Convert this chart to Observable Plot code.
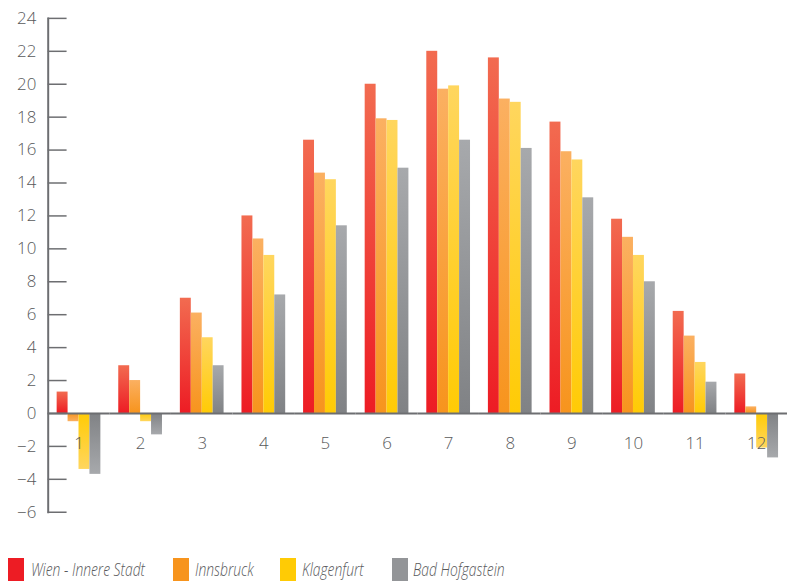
<!DOCTYPE html>
<html><head><meta charset="utf-8">
<script src="https://cdn.jsdelivr.net/npm/d3@7"></script>
<script src="https://cdn.jsdelivr.net/npm/@observablehq/plot@0.6"></script>
<style>
html,body{margin:0;padding:0;background:#fff;overflow:hidden;width:787px;height:585px}
#chart{position:absolute;left:0;top:0;line-height:0}
#chart svg{display:block}
#legend{position:absolute;left:0;top:558px;width:787px;height:24px}
.item{position:absolute;top:0;height:23px}
.sw{position:absolute;left:0;top:0;width:16px;height:23px}
.lab{position:absolute;top:-2px;white-space:nowrap;font-family:"Open Sans",sans-serif;font-style:italic;font-weight:300;font-size:19px;line-height:26px;color:#58595b;transform:scaleX(0.73);transform-origin:0 50%}
</style></head>
<body>
<svg width="0" height="0" style="position:absolute"><defs id="grads"></defs></svg>
<div id="chart"></div>
<div id="legend"></div>
<script>
const months = [1, 2, 3, 4, 5, 6, 7, 8, 9, 10, 11, 12];
const series = ["Wien - Innere Stadt", "Innsbruck", "Klagenfurt", "Bad Hofgastein"];
const wien        = [1.3, 2.9, 7.0, 12.0, 16.6, 20.0, 22.0, 21.6, 17.7, 11.8, 6.2, 2.4];
const innsbruck   = [-0.5, 2.0, 6.1, 10.6, 14.6, 17.9, 19.7, 19.1, 15.9, 10.7, 4.7, 0.4];
const klagenfurt  = [-3.4, -0.5, 4.6, 9.6, 14.2, 17.8, 19.9, 18.9, 15.4, 9.6, 3.1, -2.1];
const hofgastein  = [-3.7, -1.3, 2.9, 7.2, 11.4, 14.9, 16.6, 16.1, 13.1, 8.0, 1.9, -2.7];
const yTicks = [-6, -4, -2, 0, 2, 4, 6, 8, 10, 12, 14, 16, 18, 20, 22, 24];

const topColors    = ["#f26b50", "#fbb061", "#ffd65e", "#a7a9ac"];
const bottomColors = ["#ed1c24", "#f7941d", "#ffcb05", "#808285"];
const legendColors = ["#ed1c24", "#f7941d", "#ffcb05", "#939598"];
const legendPos = [[8, 31], [173, 195], [280, 302], [392, 413]];

// gradients (per-bar, objectBoundingBox)
document.getElementById("grads").innerHTML = series.map((s, i) =>
  `<linearGradient id="g${i}p" x1="0" y1="0" x2="0" y2="1"><stop offset="0" stop-color="${topColors[i]}"/><stop offset="1" stop-color="${bottomColors[i]}"/></linearGradient>` +
  `<linearGradient id="g${i}n" x1="0" y1="0" x2="0" y2="1"><stop offset="0" stop-color="${bottomColors[i]}"/><stop offset="1" stop-color="${topColors[i]}"/></linearGradient>`
).join("");

const values = [wien, innsbruck, klagenfurt, hofgastein];
const data = [];
months.forEach((m, mi) => series.forEach((s, si) => data.push({month: m, series: s, si, value: values[si][mi]})));

const ink = "#6d6e71";
const chart = Plot.plot({
  width: 792, height: 533,
  marginLeft: 47, marginRight: 0, marginTop: 18, marginBottom: 18,
  style: {fontFamily: "'Open Sans', sans-serif", fontSize: "17px", color: "#58595b", background: "transparent"},
  fx: {domain: months, padding: 0, axis: null, label: null},
  x: {domain: series, paddingInner: 0, paddingOuter: 0.7, axis: null, label: null},
  y: {domain: [-6, 24], axis: null, label: null},
  color: {type: "identity"},
  marks: [
    Plot.rectY(data, {fx: "month", x: "series", y: "value", fill: d => `url(#g${d.si}${d.value < 0 ? "n" : "p"})`, inset: 0}),
    Plot.ruleY([0], {stroke: ink, strokeWidth: 2}),
    Plot.frame({anchor: "left", facetAnchor: "left", stroke: ink, strokeWidth: 2}),
    Plot.axisY(yTicks, {anchor: "left", label: null, tickSize: -19, tickPadding: 31, stroke: ink, strokeWidth: 1.5, fill: "#58595b", fontWeight: 300, fontSize: 17}),
    Plot.text(months, {fx: d => d, y: () => 0, text: d => String(d), dy: 30, fill: "#58595b", fontWeight: 300, fontSize: 17})
  ]
});
document.getElementById("chart").appendChild(chart);

const legend = document.getElementById("legend");
series.forEach((s, i) => {
  const it = document.createElement("div");
  it.className = "item";
  it.style.left = legendPos[i][0] + "px";
  it.innerHTML = `<div class="sw" style="background:${legendColors[i]}"></div><div class="lab" style="left:${legendPos[i][1] - legendPos[i][0]}px">${s}</div>`;
  legend.appendChild(it);
});
</script>
</body></html>
